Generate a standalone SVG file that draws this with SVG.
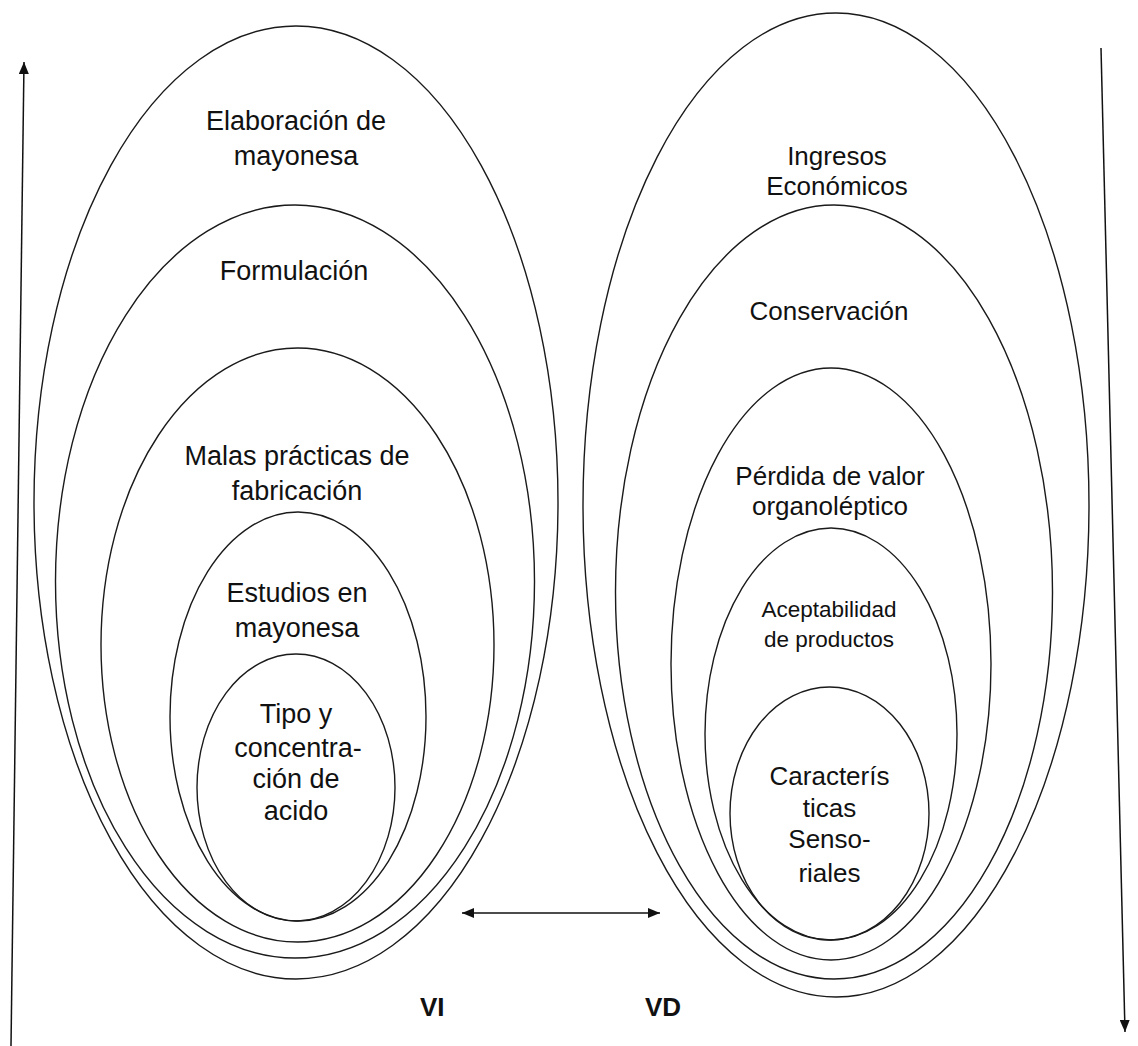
<svg xmlns="http://www.w3.org/2000/svg" width="1138" height="1046" viewBox="0 0 1138 1046">
<style>
.e{fill:none;stroke:#1a1a1a;stroke-width:1.4}
.t{font-family:"Liberation Sans",Arial,sans-serif;fill:#111;text-anchor:middle}
.l{font-size:27px}
.r{font-size:26px}
.s{font-size:22.5px}
.b{font-family:"Liberation Sans",Arial,sans-serif;font-weight:bold;font-size:26px;fill:#111}
.c{fill:none;stroke:#111;stroke-width:1.5}
</style>
<defs>
<marker id="ah" viewBox="0 0 12 10" refX="12" refY="5" markerWidth="12" markerHeight="10" markerUnits="userSpaceOnUse" orient="auto-start-reverse">
<path d="M0,0 L12,5 L0,10 z" fill="#111"/>
</marker>
</defs>
<rect width="1138" height="1046" fill="#fff"/>
<g id="left-1">
<ellipse class="e" cx="296" cy="502.5" rx="262" ry="476.5"/>
<text class="t l" x="296" y="130">Elaboración de</text>
<text class="t l" x="296" y="165">mayonesa</text>
</g>
<g id="left-2">
<ellipse class="e" cx="295" cy="581.5" rx="239.5" ry="376.5"/>
<text class="t l" x="294" y="280">Formulación</text>
</g>
<g id="left-3">
<ellipse class="e" cx="297.5" cy="645" rx="196.5" ry="297"/>
<text class="t l" x="297" y="465">Malas prácticas de</text>
<text class="t l" x="297" y="500">fabricación</text>
</g>
<g id="left-4">
<ellipse class="e" cx="298" cy="716.5" rx="128" ry="204.5"/>
<text class="t l" x="297" y="602">Estudios en</text>
<text class="t l" x="297" y="637">mayonesa</text>
</g>
<g id="left-5">
<ellipse class="e" cx="296" cy="787.5" rx="99" ry="133.5"/>
<text class="t l" x="296" y="723">Tipo y</text>
<text class="t l" x="298" y="757">concentra-</text>
<text class="t l" x="296" y="788">ción de</text>
<text class="t l" x="296" y="820">acido</text>
</g>
<g id="right-1">
<ellipse class="e" cx="836" cy="505" rx="253" ry="492"/>
<text class="t r" x="837" y="165">Ingresos</text>
<text class="t r" x="837" y="195">Económicos</text>
</g>
<g id="right-2">
<ellipse class="e" cx="834" cy="592" rx="218.5" ry="387"/>
<text class="t r" x="829" y="320">Conservación</text>
</g>
<g id="right-3">
<ellipse class="e" cx="831" cy="664" rx="160" ry="296"/>
<text class="t r" x="830" y="485">Pérdida de valor</text>
<text class="t r" x="830" y="515">organoléptico</text>
</g>
<g id="right-4">
<ellipse class="e" cx="831" cy="734" rx="126" ry="206"/>
<text class="t s" x="829" y="617">Aceptabilidad</text>
<text class="t s" x="829" y="647">de productos</text>
</g>
<g id="right-5">
<ellipse class="e" cx="829.5" cy="813.5" rx="99.5" ry="126.5"/>
<text class="t r" x="829.5" y="785">Caracterís</text>
<text class="t r" x="829.5" y="817">ticas</text>
<text class="t r" x="829.5" y="848">Senso-</text>
<text class="t r" x="829.5" y="882">riales</text>
</g>
<g id="connectors">
<line class="c" x1="11" y1="1046" x2="24" y2="62" marker-end="url(#ah)"/>
<line class="c" x1="1101" y1="48" x2="1125" y2="1032" marker-end="url(#ah)"/>
<line class="c" x1="462" y1="913" x2="660" y2="913" marker-start="url(#ah)" marker-end="url(#ah)"/>
</g>
<g id="labels">
<text class="b" x="420" y="1016">VI</text>
<text class="b" x="645" y="1016">VD</text>
</g>
</svg>
